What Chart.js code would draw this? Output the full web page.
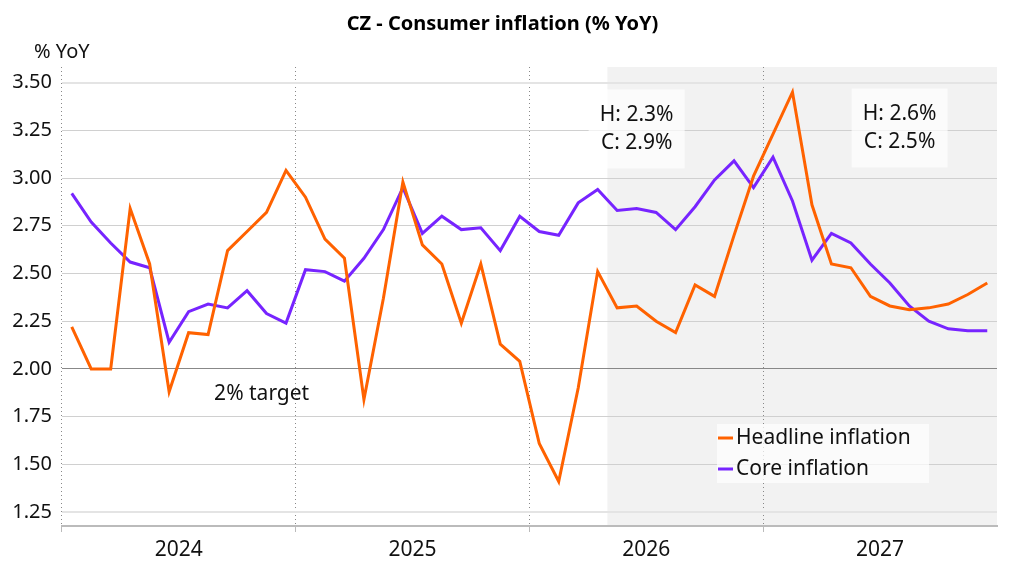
<!DOCTYPE html>
<html>
<head>
<meta charset="utf-8">
<script src="https://cdn.jsdelivr.net/npm/chart.js@4"></script>
<style>
  html, body { margin: 0; padding: 0; background: #fff; }
</style>
</head>
<body>
<canvas id="chart" width="1024" height="576"></canvas>
<script>
// data
const years = ['2024', '2025', '2026', '2027'];
const monthNames = ['Jan', 'Feb', 'Mar', 'Apr', 'May', 'Jun', 'Jul', 'Aug', 'Sep', 'Oct', 'Nov', 'Dec'];
const months = years.flatMap(y => monthNames.map(m => m + ' ' + y));

const headline = [
  2.22, 2.00, 2.00, 2.84, 2.55, 1.88, 2.19, 2.18, 2.62, 2.72, 2.82, 3.04,
  2.90, 2.68, 2.58, 1.84, 2.37, 2.98, 2.65, 2.55, 2.24, 2.55, 2.13, 2.04,
  1.61, 1.41, 1.90, 2.51, 2.32, 2.33, 2.25, 2.19, 2.44, 2.38, 2.70, 3.01,
  3.23, 3.45, 2.86, 2.55, 2.53, 2.38, 2.33, 2.31, 2.32, 2.34, 2.39, 2.45
];
const core = [
  2.92, 2.77, 2.66, 2.56, 2.53, 2.14, 2.30, 2.34, 2.32, 2.41, 2.29, 2.24,
  2.52, 2.51, 2.46, 2.58, 2.73, 2.95, 2.71, 2.80, 2.73, 2.74, 2.62, 2.80,
  2.72, 2.70, 2.87, 2.94, 2.83, 2.84, 2.82, 2.73, 2.85, 2.99, 3.09, 2.95,
  3.11, 2.88, 2.57, 2.71, 2.66, 2.55, 2.45, 2.33, 2.25, 2.21, 2.20, 2.20
];

const forecastStart = 'May 2026';
const target = 2;
const noteLines = [['H: 2.3%', 'C: 2.9%'], ['H: 2.6%', 'C: 2.5%']];
const noteAt = [29, 42.5];      // month index the note is centred on
const noteLevel = [3.26, 3.265];

const FONT = "'Noto Sans', sans-serif";
const ORANGE = '#FF6200';
const VIOLET = '#7724FF';

const decor = {
  id: 'decor',
  beforeDraw(chart) {
    const { ctx, chartArea: a, scales: { x } } = chart;
    const half = (x.getPixelForValue(1) - x.getPixelForValue(0)) / 2;
    const x0 = x.getPixelForValue(months.indexOf(forecastStart)) - half;
    ctx.save();
    ctx.fillStyle = '#f2f2f2';
    ctx.fillRect(x0, a.top, a.right - x0, a.bottom - a.top);
    ctx.restore();
  },
  afterDatasetsDraw(chart) {
    const { ctx, chartArea: a, scales: { x, y } } = chart;
    ctx.save();
    ctx.font = '20px ' + FONT;
    ctx.fillStyle = '#111';
    ctx.textBaseline = 'middle';

    // unit label
    ctx.textAlign = 'left';
    ctx.fillText('% YoY', a.left - 28, a.top - 15);

    ctx.font = '21px ' + FONT;
    // target label
    ctx.textAlign = 'center';
    ctx.fillText(target + '% target', x.getPixelForValue(9.75), y.getPixelForValue(1.87));

    // forecast notes
    noteLines.forEach((lines, i) => {
      const cx = x.getPixelForValue(noteAt[i]);
      const cy = y.getPixelForValue(noteLevel[i]);
      ctx.fillStyle = 'rgba(255,255,255,0.7)';
      ctx.fillRect(cx - 48, cy - 39, 96, 79);
      ctx.fillStyle = '#111';
      ctx.fillText(lines[0], cx, cy - 13);
      ctx.fillText(lines[1], cx, cy + 15);
    });

    // legend
    const lx = a.right - 280, ly = a.bottom - 102;
    ctx.fillStyle = 'rgba(255,255,255,0.7)';
    ctx.fillRect(lx, ly, 212, 59);
    ctx.textAlign = 'left';
    chart.data.datasets.forEach((ds, i) => {
      const ry = ly + 14 + i * 31;
      ctx.strokeStyle = ds.borderColor;
      ctx.lineWidth = 3;
      ctx.beginPath();
      ctx.moveTo(lx + 1, ry);
      ctx.lineTo(lx + 16, ry);
      ctx.stroke();
      ctx.fillStyle = '#111';
      ctx.fillText(ds.label, lx + 19, ry);
    });
    ctx.restore();
  }
};

new Chart(document.getElementById('chart'), {
  type: 'line',
  data: {
    labels: months,
    datasets: [
      { label: 'Headline inflation', data: headline, borderColor: ORANGE, borderWidth: 3, pointRadius: 0, tension: 0 },
      { label: 'Core inflation', data: core, borderColor: VIOLET, borderWidth: 3, pointRadius: 0, tension: 0 }
    ]
  },
  options: {
    responsive: false,
    animation: false,
    layout: { padding: { left: 8, right: 27, top: 0, bottom: 0 } },
    plugins: {
      legend: { display: false },
      tooltip: { enabled: false },
      title: {
        display: true,
        text: 'CZ - Consumer inflation (% YoY)',
        color: '#000',
        font: { family: FONT, size: 20, weight: 'bold' },
        padding: { top: 12, bottom: 31 }
      }
    },
    scales: {
      x: {
        offset: true,
        grid: {
          offset: true,
          color: c => c.index % 12 === 0 ? '#888' : 'transparent',
          tickColor: c => c.index % 12 === 0 ? '#bbb' : 'transparent',
          tickBorderDash: [],
          tickLength: 6,
          lineWidth: 1
        },
        border: { display: true, color: '#bbb', width: 2, dash: [1, 3] },
        ticks: {
          autoSkip: false,
          maxRotation: 0,
          labelOffset: 9.7,
          padding: 5,
          color: '#111',
          font: { family: FONT, size: 21 },
          callback: (v, i) => i % 12 === 5 ? years[Math.floor(i / 12)] : ''
        },
        afterFit: s => { s.height = 50; }
      },
      y: {
        min: 1.177,
        max: 3.582,
        border: { display: false },
        grid: {
          drawTicks: false,
          color: c => {
            const v = c.tick && c.tick.value;
            if (Math.abs(v - target) < 1e-6) return '#888';
            if (Math.abs(v - 3.5) < 1e-6 || Math.abs(v - 1.25) < 1e-6) return '#e4e4e4';
            return '#d0d0d0';
          },
          lineWidth: c => {
            const v = c.tick && c.tick.value;
            return (Math.abs(v - 3.5) < 1e-6 || Math.abs(v - 1.25) < 1e-6) ? 2 : 1;
          }
        },
        ticks: {
          stepSize: 0.25,
          includeBounds: false,
          padding: 10,
          color: '#111',
          font: { family: FONT, size: 20 },
          callback: v => v.toFixed(2)
        },
        afterFit: s => { s.width = 54; }
      }
    }
  },
  plugins: [decor]
});
</script>
</body>
</html>
